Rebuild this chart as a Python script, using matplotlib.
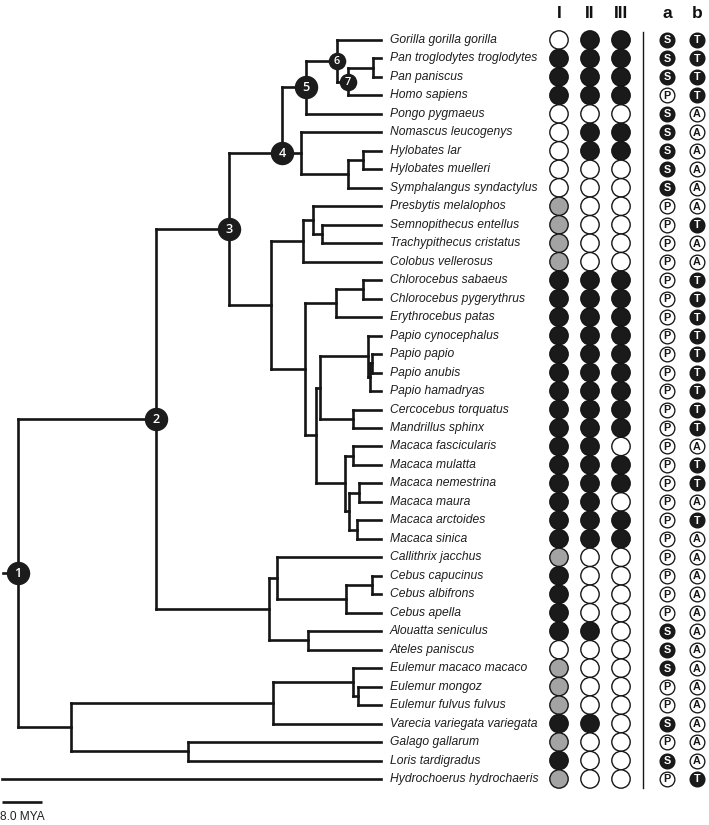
import matplotlib
matplotlib.use("Agg")
import matplotlib.pyplot as plt
from matplotlib.collections import LineCollection

# ---------------- data ----------------
taxa = [
    "Gorilla gorilla gorilla", "Pan troglodytes troglodytes", "Pan paniscus",
    "Homo sapiens", "Pongo pygmaeus", "Nomascus leucogenys", "Hylobates lar",
    "Hylobates muelleri", "Symphalangus syndactylus", "Presbytis melalophos",
    "Semnopithecus entellus", "Trachypithecus cristatus", "Colobus vellerosus",
    "Chlorocebus sabaeus", "Chlorocebus pygerythrus", "Erythrocebus patas",
    "Papio cynocephalus", "Papio papio", "Papio anubis", "Papio hamadryas",
    "Cercocebus torquatus", "Mandrillus sphinx", "Macaca fascicularis",
    "Macaca mulatta", "Macaca nemestrina", "Macaca maura", "Macaca arctoides",
    "Macaca sinica", "Callithrix jacchus", "Cebus capucinus", "Cebus albifrons",
    "Cebus apella", "Alouatta seniculus", "Ateles paniscus",
    "Eulemur macaco macaco", "Eulemur mongoz", "Eulemur fulvus fulvus",
    "Varecia variegata variegata", "Galago gallarum", "Loris tardigradus",
    "Hydrochoerus hydrochaeris",
]

# one character per taxon (same order as taxa)
# W = white, B = black, G = grey
trait_I = list("WBBBWWWWW" "GGGG" "BBBBBBBBB" "BBBBBB" "GBBBBW" "GGGBGBG")
trait_II = list("BBBBWBBWW" "WWWW" "BBBBBBBBB" "BBBBBB" "WWWWBW" "WWWBWWW")
trait_III = list("BBBBWBBWW" "WWWW" "BBBBBBBBB" "WBBWBB" "WWWWWW" "WWWWWWW")
# S / P  and  T / A
trait_a = list("SSSPSSSSS" "PPPP" "PPPPPPPPP" "PPPPPP" "PPPPSS" "SPPSPSP")
trait_b = list("TTTTAAAAA" "ATAA" "TTTTTTTTT" "ATTATA" "AAAAAA" "AAAAAAT")

col_titles = ["I", "II", "III", "a", "b"]

# internal nodes: name, age (MYA), children (int = tip index)
node_names = ["pan", "n7", "n6", "n5", "hylo", "hylosym", "gibbon", "n4",
              "semtra", "presb", "colob", "chloro", "cercop", "pa", "pah",
              "papio", "cercmand", "papcm", "macfm", "macnm", "macas",
              "macsil", "macaca", "papion", "cercinae", "cercidae", "n3",
              "cebus2", "cebus", "cebidae", "atelid", "nwm", "n2",
              "eul2", "eul", "lemur", "loris", "strep", "n1"]
node_ages = [1.6, 6.6, 8.8, 15.0, 3.6, 6.6, 16.0, 19.8,
             11.8, 13.6, 15.6, 3.6, 9.0, 1.8, 2.2,
             2.6, 5.6, 12.2, 5.6, 4.4, 4.8,
             6.4, 7.2, 13.0, 15.2, 22.0, 30.4,
             1.8, 7.0, 20.8, 14.6, 22.4, 45.0,
             4.6, 5.6, 21.6, 38.6, 62.0, 72.6]
node_children = [[1, 2], ["pan", 3], [0, "n7"], ["n6", 4], [6, 7],
                 ["hylo", 8], [5, "hylosym"], ["n5", "gibbon"],
                 [10, 11], [9, "semtra"], ["presb", 12], [13, 14],
                 ["chloro", 15], [17, 18], ["pa", 19], [16, "pah"],
                 [20, 21], ["papio", "cercmand"], [22, 23], [24, 25],
                 [26, 27], ["macnm", "macas"], ["macfm", "macsil"],
                 ["papcm", "macaca"], ["cercop", "papion"],
                 ["colob", "cercinae"], ["n4", "cercidae"],
                 [29, 30], ["cebus2", 31], [28, "cebus"], [32, 33],
                 ["cebidae", "atelid"], ["n3", "nwm"],
                 [35, 36], [34, "eul2"], ["eul", 37], [38, 39],
                 ["lemur", "loris"], ["n2", "strep"]]
node_labels = {"n1": "1", "n2": "2", "n3": "3", "n4": "4",
               "n5": "5", "n6": "6", "n7": "7"}
anchored = {"n4": 1}          # node drawn at the level of this child
root_stem_age = 3.0
outgroup_index = 40
outgroup_age = 75.8
scale_bar_mya = 8.0

# ---------------- layout ----------------
W, H = 709, 825
X_TIP = 381.0
PX_PER_MYA = 5.0
ROW0 = 40.0
ROW_H = 18.475
NAME_X = 390.0
COL_X = [559, 590, 621, 667, 697]
SEP_X = 643
INK = "#151515"

def px_x(age):
    return X_TIP - PX_PER_MYA * age

def px_y(row):
    return ROW0 + ROW_H * row

nodes = {n: (a, c) for n, a, c in zip(node_names, node_ages, node_children)}
pos = {}

def place(n):
    if isinstance(n, int):
        return (X_TIP, px_y(n))
    if n in pos:
        return pos[n]
    age, ch = nodes[n]
    cp = [place(c) for c in ch]
    ys = [p[1] for p in cp]
    if n in anchored:
        y = ys[anchored[n]]
    else:
        y = (min(ys) + max(ys)) / 2.0
    pos[n] = (px_x(age), y)
    return pos[n]

place("n1")

segs = []
for n in node_names:
    x, y = pos[n]
    ch = nodes[n][1]
    cp = [place(c) for c in ch]
    ys = [p[1] for p in cp]
    segs.append([(x, min(ys)), (x, max(ys))])
    for cx, cy in cp:
        segs.append([(x, cy), (cx, cy)])
rx, ry = pos["n1"]
segs.append([(px_x(node_ages[-1] + root_stem_age), ry), (rx, ry)])
segs.append([(px_x(outgroup_age), px_y(outgroup_index)),
             (X_TIP, px_y(outgroup_index))])

fig = plt.figure(figsize=(W / 100, H / 100), dpi=100)
ax = fig.add_axes([0, 0, 1, 1])
ax.set_xlim(0, W)
ax.set_ylim(H, 0)
ax.axis("off")

lc = LineCollection(segs, colors=INK, linewidths=1.9, capstyle="projecting")
ax.add_collection(lc)

# node circles
for n, lab in node_labels.items():
    x, y = pos[n]
    small = lab in ("6", "7")
    ax.scatter([x], [y], s=(160 if small else 285), color="#1c1c1c",
               zorder=5, linewidths=0)
    ax.text(x, y + 0.5, lab, color="white", ha="center", va="center",
            fontsize=(7.8 if small else 9.2), fontweight="semibold",
            family="Open Sans", zorder=6)

# taxon names
for i, name in enumerate(taxa):
    ax.text(NAME_X, px_y(i), name, ha="left", va="center", fontsize=8.7,
            style="italic", family="Liberation Sans", color="#1e1e1e")

# trait columns
fills = {"W": "white", "B": "#1a1a1a", "G": "#a3a3a3"}
for ci, col in enumerate([trait_I, trait_II, trait_III]):
    xs = [COL_X[ci]] * len(col)
    ys = [px_y(i) for i in range(len(col))]
    ax.scatter(xs, ys, s=175, c=[fills[v] for v in col], edgecolors=INK,
               linewidths=1.0, zorder=4)

for ci, col in ((3, trait_a), (4, trait_b)):
    for i, v in enumerate(col):
        dark = v in ("S", "T")
        ax.scatter([COL_X[ci]], [px_y(i)], s=112,
                   c=["#1a1a1a" if dark else "white"], edgecolors=INK,
                   linewidths=0.95, zorder=4)
        ax.text(COL_X[ci], px_y(i) + 0.4, v, ha="center", va="center",
                fontsize=7.8, fontweight="bold", family="Liberation Sans",
                color=("white" if dark else INK), zorder=5)

# column headers
for cx, t in zip(COL_X, col_titles):
    ax.text(cx, 17.5, t, ha="center", va="baseline", fontsize=12.5,
            fontweight="bold", family="Liberation Sans", color="#111111")

# separator
ax.plot([SEP_X, SEP_X], [32, 788], color=INK, lw=1.0)

# scale bar
ax.plot([2, 2 + PX_PER_MYA * scale_bar_mya], [802, 802], color=INK,
        lw=1.9, solid_capstyle="butt")
ax.text(0, 817, "%.1f MYA" % scale_bar_mya, ha="left", va="center",
        fontsize=8.6, family="Liberation Sans", color="#222222")

fig.savefig("out.png", dpi=100)
